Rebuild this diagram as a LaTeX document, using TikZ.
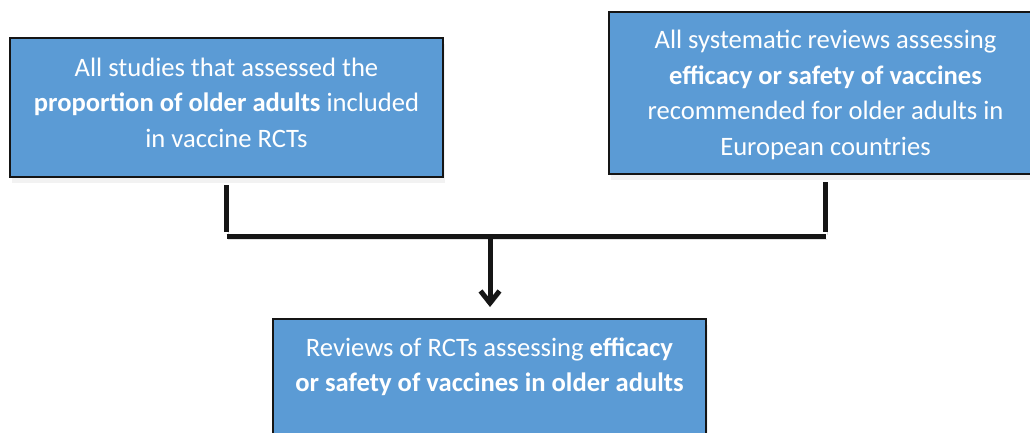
\documentclass[tikz,border=0pt]{standalone}
\usepackage{fontspec}
\setmainfont{Carlito}
\usetikzlibrary{arrows.meta,shadows}
\definecolor{boxblue}{HTML}{5B9BD5}
\definecolor{linegray}{HTML}{151515}

\begin{document}
\begin{tikzpicture}[x=1pt,y=-1pt,
  box/.style={draw=linegray,line width=2pt,fill=boxblue,text=white,align=center,
    minimum width=433pt,inner sep=0pt,
    font=\fontsize{26.6pt}{35.5pt}\selectfont,
    drop shadow={shadow xshift=2pt,shadow yshift=-6pt,opacity=0.1}},
  conn/.style={line width=5pt,draw=linegray,
    preaction={draw=black!12,transform canvas={xshift=1.5pt,yshift=-2.5pt}}}]
  \useasboundingbox (0,0) rectangle (1030,433);

  \node (studies) at (226.5,107.5) [box,minimum height=139pt,text depth=10pt]
    {All studies that assessed the\\\textbf{proportion of older adults} included\\in vaccine RCTs};
  \node (sysrev) at (825.5,93) [box,minimum height=162pt,text depth=0pt]
    {All systematic reviews assessing\\\textbf{efficacy or safety of vaccines}\\recommended for older adults in\\European countries};
  \node (reviews) at (489.5,388.5) [box,minimum height=139pt,text depth=48pt]
    {Reviews of RCTs assessing \textbf{efficacy}\\\textbf{or safety of vaccines in older adults}};

  \coordinate (join) at (490,236.5);
  \coordinate (lend) at (226.5,232);
  \coordinate (rend) at (825.5,232);

  \draw[conn] ([yshift=-7pt]studies.south) -- (lend);
  \draw[conn] ([yshift=-7pt]sysrev.south) -- (rend);
  \draw[conn] (lend |- join) -- (rend |- join);
  \draw[conn,-{Straight Barb[length=12pt,width=19pt]},shorten >=11pt] (join) -- (join |- reviews.north);

\end{tikzpicture}
\end{document}
